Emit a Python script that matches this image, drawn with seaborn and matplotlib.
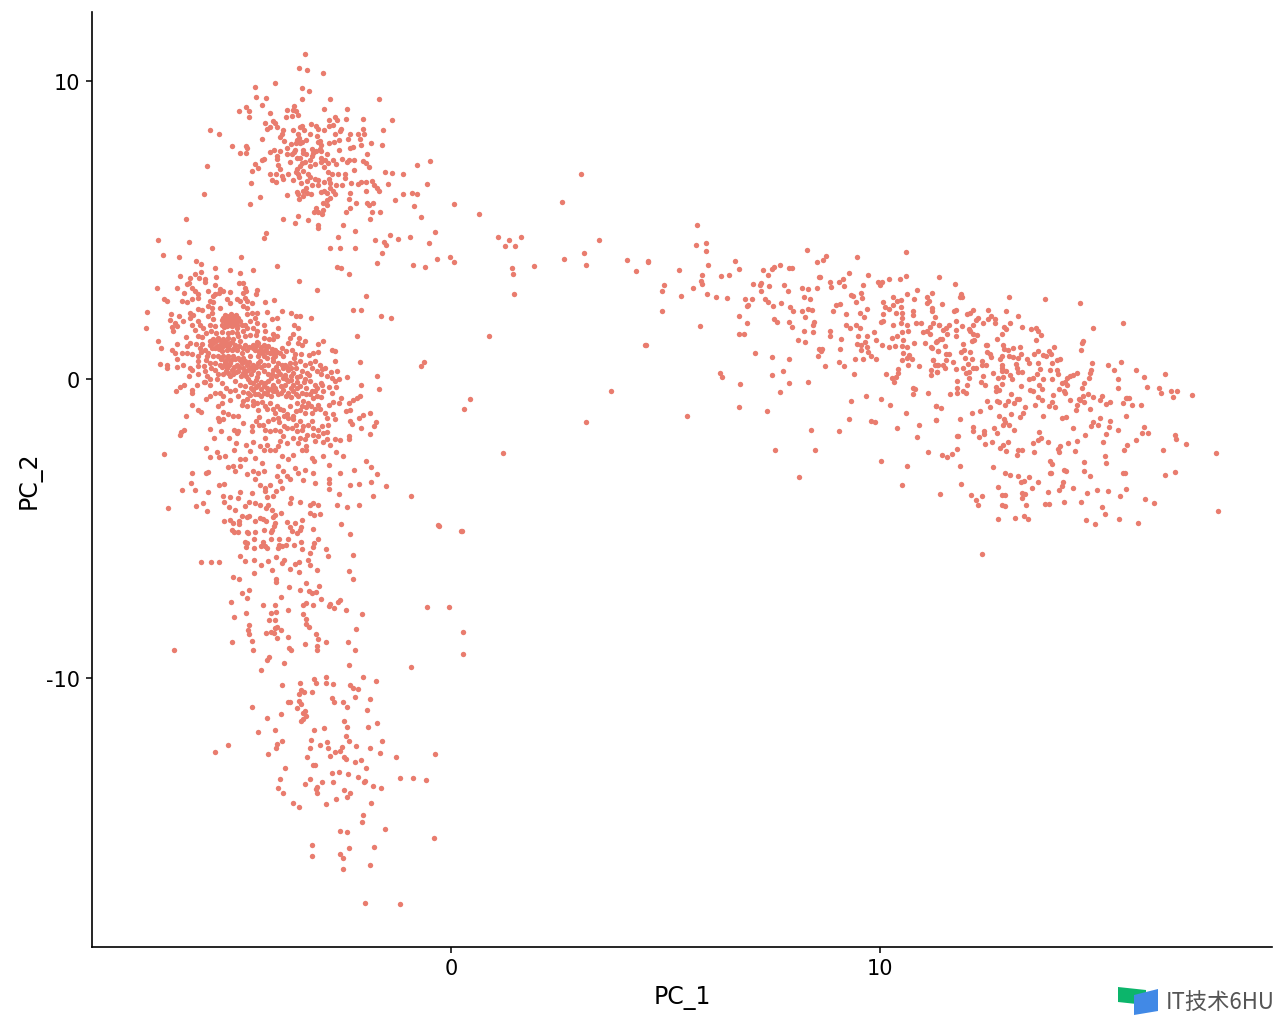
import pandas as pd
import matplotlib
matplotlib.use("Agg")
import matplotlib.pyplot as plt
from matplotlib.patches import Polygon
import seaborn as sns

# cell embedding (PC_1, PC_2)
upper_cells = [
(-3.40,10.90),(-3.54,10.43),(-3.36,10.37),(-2.98,10.27),(-4.57,9.79),(-4.10,9.92),(-3.48,9.78),(-3.32,9.66),(-4.55,9.46),(-4.31,9.42),
(-3.48,9.39),(-2.82,9.40),(-1.68,9.41),(-4.40,9.20),(-4.77,9.12),(-4.94,8.98),(-4.70,9.00),(-4.72,8.80),(-4.23,8.93),(-3.67,9.18),
(-3.82,9.03),(-3.69,9.02),(-3.62,9.01),(-3.70,8.84),(-3.56,8.85),(-3.85,8.79),(-2.95,9.05),(-2.43,9.07),(-2.70,8.80),(-2.84,8.70),
(-2.65,8.68),(-2.46,8.73),(-2.06,8.73),(-1.37,8.69),(-4.34,8.60),(-4.16,8.65),(-4.11,8.58),(-4.06,8.46),(-4.21,8.45),(-4.29,8.39),
(-3.92,8.36),(-3.26,8.56),(-3.15,8.51),(-3.48,8.51),(-3.52,8.46),(-3.43,8.35),(-3.68,8.36),(-3.09,8.38),(-2.95,8.36),(-2.85,8.51),
(-2.74,8.54),(-2.57,8.38),(-2.06,8.40),(-1.59,8.35),(-5.61,8.35),(-5.42,8.23),(-3.99,8.12),(-3.93,8.21),(-4.41,8.07),(-3.89,7.98),
(-3.56,8.21),(-3.58,8.04),(-3.62,7.93),(-3.29,8.24),(-3.37,8.04),(-3.12,8.15),(-3.05,7.98),(-2.70,8.23),(-2.59,8.32),(-2.35,8.22),
(-2.40,8.07),(-2.18,8.22),(-2.12,8.06),(-2.02,8.21),(-2.84,7.94),(-2.73,7.96),(-2.60,8.01),(-2.10,7.87),(-1.87,7.93),(-1.62,7.85),
(-5.11,7.82),(-4.77,7.82),(-4.76,7.76),(-3.72,7.88),(-3.52,7.93),(-3.02,7.87),(-2.35,7.76),(-2.29,7.79),(-2.61,7.68),(-4.93,7.59),
(-4.79,7.58),(-4.23,7.62),(-4.13,7.69),(-3.99,7.65),(-3.83,7.76),(-3.64,7.70),(-3.44,7.70),(-3.25,7.72),(-3.15,7.65),(-3.02,7.65),
(-3.83,7.54),(-3.70,7.54),(-4.06,7.48),(-4.06,7.39),(-3.60,7.43),(-3.52,7.43),(-3.37,7.54),(-3.25,7.48),(-3.29,7.35),(-3.21,7.59),
(-3.02,7.43),(-2.94,7.37),(-3.03,7.28),(-2.86,7.26),(-2.76,7.37),(-2.69,7.21),(-2.54,7.40),(-2.43,7.28),(-2.37,7.37),(-2.26,7.35),
(-1.97,7.55),(-2.06,7.31),(-1.98,7.24),(-1.92,7.11),(-4.37,7.39),(-4.40,7.36),(-4.57,7.23),(-4.51,7.09),(-4.65,7.00),(-5.70,7.16),
(-4.04,7.17),(-3.99,7.06),(-3.48,7.24),(-3.52,7.15),(-3.60,7.06),(-3.62,6.95),(-3.56,6.87),(-3.29,7.15),(-3.44,6.98),(-2.95,7.12),
(-2.86,6.96),(-2.27,7.02),(-1.55,6.96),(-1.38,6.92),(-1.13,6.88),(-0.79,7.18),(-0.49,7.31),(-4.22,6.89),(-4.09,6.89),(-3.80,6.89),
(-3.95,6.83),(-3.92,6.72),(-3.68,6.70),(-4.18,6.67),(-4.08,6.62),(-3.33,6.89),(-3.29,6.79),(-3.35,6.64),(-3.17,6.73),(-3.09,6.68),
(-3.09,6.50),(-2.78,6.87),(-2.84,6.72),(-2.63,6.87),(-2.48,6.87),(-2.47,6.76),(-2.82,6.59),(-2.67,6.51),(-2.55,6.52),(-2.34,6.57),
(-2.18,6.54),(-2.11,6.63),(-1.98,6.61),(-1.85,6.64),(-1.79,6.51),(-1.73,6.42),(-1.68,6.31),(-1.48,6.55),(-0.57,6.54),(-4.66,6.58),
(-3.25,6.51),(-3.37,6.42),(-3.44,6.31),(-2.82,6.42),(-2.76,6.31),(-2.70,6.23),(-3.60,6.28),(-3.56,6.20),(-3.54,6.05),(-3.26,6.20),
(-3.04,6.29),(-2.96,6.31),(-3.82,6.18),(-4.45,6.12),(-5.77,6.22),(-2.35,6.25),(-2.37,6.06),(-1.98,6.30),(-1.12,6.22),(-0.91,6.24),
(-0.80,6.22),(-1.31,6.03),(-2.82,6.09),(-2.90,6.03),(-2.98,5.90),(-2.90,5.86),(-2.21,5.90),(-1.95,5.92),(-1.92,5.84),(-1.81,5.92),
(-0.86,5.81),(0.06,5.88),(-4.69,5.87),(-3.15,5.75),(-3.19,5.62),(-3.09,5.60),(-2.98,5.67),(-3.00,5.55),(-2.35,5.73),(-2.45,5.62),
(-1.85,5.60),(-1.65,5.62),(-3.56,5.49),(-3.91,5.37),(-3.64,5.24),(-3.34,5.35),(-3.10,5.19),(-3.10,5.07),(-2.51,5.16),(-1.90,5.39),
(-0.69,5.45),(-6.19,5.37),(-4.32,4.91),(-4.37,4.75),(-2.23,4.96),(-2.64,4.79),(-1.43,4.85),(-1.24,4.71),(-0.95,4.77),(-0.38,4.93),
(-1.78,4.68),(-1.57,4.60),(-1.51,4.49),(-0.51,4.57),(-6.82,4.68),(-6.12,4.62),(-5.58,4.40),(-2.83,4.39),(-2.59,4.41),(-2.25,4.39),
(-1.62,4.25),(-6.72,4.17),(-6.35,4.12),(-4.89,4.12),(-0.02,4.09),(0.06,3.94),(-0.33,4.04),(-5.95,3.96),(-5.84,3.87),(-1.72,3.89),
(-0.88,3.84),(-0.61,3.77),(-4.06,3.79),(-5.50,3.72),(-5.15,3.68),(-4.61,3.67),(-2.65,3.76),(-2.56,3.73),
(-3.55,8.10),(-3.48,7.95),(-3.45,7.60),(-3.40,7.30),(-3.65,7.62),(-3.75,7.30),(-3.10,7.95),(-3.05,7.72),(-2.88,7.55),(-3.55,6.78),
(-3.50,6.60),(-2.95,6.62),(-2.90,6.25),(-3.35,6.25),(-3.45,6.15),(-3.18,7.22),
]
dense_cells = [
(-6.32,3.46),(-5.83,3.61),(-4.91,3.57),(-5.47,3.45),(-5.97,3.52),(-6.08,3.40),(-6.12,3.24),(-6.16,3.20),(-5.87,3.40),(-5.74,3.35),
(-5.74,3.27),(-3.54,3.30),(-2.39,3.52),(-6.86,3.08),(-6.40,3.06),(-6.03,3.07),(-5.97,2.96),(-5.91,2.85),(-6.03,2.71),(-5.89,2.73),
(-6.23,2.90),(-5.67,2.97),(-5.50,3.16),(-5.39,3.04),(-5.50,2.85),(-5.32,2.96),(-5.16,2.94),(-5.42,2.90),(-5.54,2.79),(-4.94,3.23),
(-4.84,3.24),(-4.80,3.07),(-4.77,2.96),(-4.84,2.90),(-4.53,2.99),(-4.54,2.85),(-4.80,2.74),(-4.75,2.62),(-3.12,3.01),(-1.99,2.79),
(-6.68,2.69),(-6.61,2.62),(-6.28,2.62),(-6.15,2.59),(-4.34,2.61),(-4.13,2.65),(-5.62,2.62),(-5.54,2.59),(-5.66,2.46),(-5.58,2.40),
(-5.39,2.40),(-5.23,2.68),(-5.15,2.57),(-5.00,2.68),(-4.92,2.62),(-4.84,2.46),(-4.65,2.57),(-4.76,2.40),(-7.08,2.27),(-2.28,2.34),
(-2.10,2.34),(-1.64,2.13),(-1.40,2.07),(-6.52,2.20),(-6.34,2.12),(-6.09,2.23),(-6.01,2.17),(-5.89,2.37),(-5.81,2.34),(-4.30,2.27),
(-3.93,2.31),(-3.73,2.23),(-3.62,2.12),(-3.51,2.14),(-3.26,2.07),(-6.54,1.99),(-6.43,1.90),(-6.24,1.95),(-6.40,1.79),(-6.51,1.76),
(-6.47,1.62),(-7.12,1.73),(-6.08,2.06),(-6.05,1.84),(-5.97,1.67),(-5.89,1.95),(-5.85,1.84),(-5.66,2.12),(-5.58,2.23),(-5.54,2.01),
(-5.62,1.84),(-5.50,1.79),(-5.31,2.07),(-5.23,2.12),(-5.15,2.07),(-5.08,2.12),(-5.27,1.95),(-5.19,1.90),(-5.11,1.95),(-5.04,1.90),
(-4.96,2.07),(-5.23,1.79),(-5.11,1.79),(-5.00,1.73),(-4.88,1.84),(-5.35,1.84),(-4.76,2.18),(-4.65,2.23),(-4.53,2.23),(-4.57,2.06),
(-4.69,1.95),(-4.80,1.84),(-4.53,1.90),(-4.61,1.73),(-4.35,1.84),(-4.18,2.01),(-4.06,2.06),(-4.03,1.73),(-4.34,1.62),(-4.14,1.51),
(-4.06,1.47),(-3.66,1.84),(-3.56,1.71),(-2.20,1.44),(-3.68,1.51),(-3.75,1.40),(-3.54,1.40),(-3.40,1.28),(-3.79,1.23),(-3.48,1.17),
(-3.56,1.23),(-2.99,1.30),(-3.11,1.19),(-6.84,1.28),(-6.75,1.06),(-6.51,1.00),(-6.43,0.89),(-6.38,1.19),(-6.28,0.89),(-6.40,0.69),
(-6.16,1.12),(-6.09,1.23),(-6.16,0.89),(-6.05,0.84),(-6.19,1.43),(-5.89,1.45),(-5.85,1.06),(-5.89,0.78),(-5.89,0.61),(-5.81,1.42),
(-5.74,1.00),(-5.62,1.17),(-5.66,0.89),(-5.70,0.78),(-5.54,1.34),(-5.50,1.06),(-5.54,0.78),(-5.43,1.39),(-5.31,1.34),(-5.19,1.39),
(-5.08,1.34),(-4.96,1.45),(-4.80,1.45),(-5.39,1.17),(-5.27,1.17),(-5.15,1.23),(-5.04,1.17),(-4.92,1.28),(-4.80,1.17),(-5.35,0.95),
(-5.23,1.00),(-5.11,1.00),(-5.00,1.00),(-4.88,0.89),(-4.76,1.00),(-5.43,0.78),(-5.31,0.78),(-5.19,0.78),(-5.08,0.78),(-4.96,0.72),
(-4.84,0.72),(-4.69,0.78),(-4.61,1.17),(-4.49,1.23),(-4.37,1.17),(-4.26,1.12),(-4.57,1.00),(-4.45,1.00),(-4.34,1.00),(-4.22,0.89),
(-4.49,0.80),(-4.37,0.78),(-4.10,1.00),(-3.99,0.89),(-3.91,0.78),(-4.10,0.78),(-4.14,1.34),(-3.95,1.06),(-3.71,1.00),(-3.64,0.84),
(-3.21,0.89),(-3.11,0.91),(-2.78,1.00),(-2.70,0.95),(-2.70,0.61),(-2.12,0.59),(-6.78,0.51),(-6.63,0.48),(-6.63,0.40),(-6.40,0.42),
(-6.24,0.50),(-6.08,0.39),(-6.05,0.33),(-6.10,0.10),(-5.89,0.45),(-5.77,0.45),(-5.74,0.28),(-5.89,0.19),(-5.70,0.11),(-5.62,0.00),
(-5.50,0.56),(-5.39,0.50),(-5.50,0.33),(-5.43,0.17),(-5.27,0.56),(-5.15,0.56),(-5.23,0.39),(-5.11,0.33),(-5.00,0.50),(-4.88,0.56),
(-4.76,0.50),(-5.31,0.17),(-5.19,0.22),(-5.08,0.17),(-4.96,0.28),(-4.84,0.22),(-4.73,0.33),(-4.61,0.50),(-4.49,0.56),(-4.37,0.50),
(-4.26,0.50),(-4.14,0.61),(-4.03,0.56),(-3.87,0.50),(-3.75,0.56),(-3.64,0.56),(-3.52,0.61),(-3.40,0.50),(-3.29,0.56),(-3.17,0.61),
(-3.05,0.50),(-2.94,0.39),(-3.25,0.39),(-3.13,0.28),(-3.02,0.17),(-2.90,0.11),(-2.78,0.05),(-2.61,0.00),(-2.42,0.08),(-1.73,0.11),
(-1.68,-0.31),(-2.09,-0.19),(-4.61,0.33),(-4.49,0.22),(-4.37,0.28),(-4.26,0.17),(-4.14,0.33),(-4.03,0.28),(-3.91,0.39),(-3.79,0.33),
(-3.68,0.22),(-4.73,0.00),(-4.61,-0.11),(-4.49,-0.17),(-4.80,-0.22),(-4.37,-0.23),(-4.26,-0.06),(-4.14,-0.17),(-4.03,-0.06),(-3.91,0.05),
(-3.79,-0.06),(-3.68,-0.17),(-3.52,0.11),(-3.40,0.00),(-3.29,-0.06),(-3.17,-0.17),(-3.52,-0.22),(-3.37,-0.28),(-3.25,-0.39),(-3.02,-0.11),
(-2.98,-0.39),(-2.78,-0.45),(-2.67,-0.25),(-2.57,-0.62),(-2.12,-0.56),(-2.20,-0.62),(-2.29,-0.69),(-2.37,-0.80),(-2.45,-1.04),(-2.35,-1.03),
(-6.42,-0.37),(-6.32,-0.25),(-6.23,-0.20),(-6.05,-0.34),(-6.05,-0.47),(-5.93,-0.17),(-5.74,-0.08),(-5.62,-0.17),(-5.62,-0.56),(-5.71,-0.67),
(-5.77,-0.08),(-5.50,-0.45),(-5.39,-0.47),(-5.31,-0.56),(-5.04,-0.34),(-4.96,-0.56),(-4.84,-0.73),(-4.73,-0.45),(-4.61,-0.34),(-4.49,-0.50),
(-4.37,-0.45),(-4.26,-0.34),(-4.14,-0.39),(-4.03,-0.50),(-3.91,-0.34),(-3.79,-0.45),(-3.68,-0.39),(-3.56,-0.56),(-3.44,-0.73),(-3.33,-0.78),
(-3.21,-0.62),(-3.09,-0.84),(-6.05,-0.86),(-5.89,-1.03),(-5.84,-1.10),(-6.19,-1.22),(-5.43,-0.89),(-5.35,-0.78),(-5.15,-0.70),(-5.31,-1.10),
(-5.21,-1.17),(-5.43,-1.29),(-5.40,-1.40),(-5.31,-1.34),(-5.08,-1.23),(-4.96,-1.23),(-4.84,-1.45),(-4.88,-0.84),(-4.76,-0.89),(-4.61,-0.84),
(-4.49,-1.01),(-4.34,-0.89),(-4.22,-0.78),(-4.06,-0.89),(-3.91,-1.01),(-4.10,-1.12),(-3.83,-1.17),(-3.68,-1.23),(-3.52,-1.01),(-3.40,-1.12),
(-3.25,-1.12),(-2.94,-1.12),(-2.90,-1.29),(-2.74,-1.17),(-2.70,-1.34),(-2.86,-1.51),(-2.35,-1.40),(-2.32,-1.48),(-2.14,-1.29),(-2.05,-1.20),
(-1.89,-1.12),(-1.75,-1.42),(-1.79,-1.56),(-2.10,-1.64),(-1.90,-1.84),(-4.65,-1.56),(-4.65,-1.73),(-4.47,-1.51),(-4.26,-1.40),(-4.14,-1.34),
(-4.03,-1.29),(-3.79,-1.29),(-3.68,-1.34),(-3.52,-1.40),(-4.34,-1.68),(-4.22,-1.73),(-4.10,-1.68),(-3.99,-1.73),(-3.83,-1.62),(-3.71,-1.62),
(-3.60,-1.73),(-3.44,-1.56),(-3.33,-1.51),(-3.25,-1.40),(-3.21,-1.62),(-3.09,-1.68),(-2.98,-1.79),(-2.90,-1.77),(-6.33,-1.87),(-6.30,-1.76),
(-6.22,-1.70),(-5.61,-1.67),(-5.37,-1.71),(-5.52,-1.97),(-5.07,-1.70),(-5.00,-1.81),(-4.96,-1.73),(-5.18,-1.97),(-5.02,-2.12),(-4.78,-2.18),
(-4.61,-2.10),(-4.69,-2.40),(-4.45,-2.24),(-4.34,-1.96),(-4.30,-2.18),(-4.37,-2.35),(-4.22,-2.35),(-4.10,-2.38),(-4.03,-2.24),(-3.99,-2.07),
(-3.91,-1.90),(-3.83,-2.12),(-3.68,-1.96),(-3.52,-1.96),(-3.56,-2.12),(-3.40,-2.01),(-3.37,-2.24),(-3.48,-2.38),(-3.39,-2.38),(-3.17,-2.07),
(-2.99,-2.10),(-2.82,-2.21),(-2.88,-1.99),(-2.70,-1.98),(-2.58,-2.03),(-2.38,-1.99),(-2.38,-1.88),(-5.72,-2.29),(-5.46,-2.42),(-5.63,-2.60),
(-5.40,-2.60),(-5.28,-2.57),(-5.06,-2.38),(-6.68,-2.51),(-5.19,-2.94),(-5.08,-2.91),(-5.04,-3.07),(-4.92,-2.66),(-4.80,-2.68),(-4.92,-2.91),
(-4.76,-3.18),(-4.57,-2.63),(-4.41,-2.79),(-4.61,-3.07),(-4.49,-3.13),(-4.57,-3.33),(-4.37,-3.07),(-3.95,-2.57),(-3.79,-2.68),(-3.68,-2.54),
(-4.03,-2.90),(-3.91,-3.07),(-3.83,-3.24),(-4.06,-3.24),(-3.99,-3.41),(-3.75,-3.35),(-3.64,-2.96),(-3.40,-3.02),(-3.56,-3.13),(-3.44,-3.38),
(-3.25,-2.63),(-3.19,-2.74),(-3.21,-3.15),(-3.17,-3.46),(-2.99,-2.57),(-2.69,-2.44),(-2.52,-2.55),(-2.84,-2.88),(-2.59,-3.13),(-2.27,-3.04),
(-1.99,-2.74),(-1.87,-2.93),(-1.73,-3.18),(-2.84,-3.35),(-2.84,-3.46),(-2.35,-3.53),(-2.14,-3.49),(-1.86,-3.45),(-1.52,-3.58),(-2.84,-3.66),
(-2.62,-3.84),(-1.81,-3.89),(-6.04,-3.15),(-5.71,-3.12),(-5.67,-3.11),(-6.07,-3.48),(-5.97,-3.70),(-6.27,-3.71),(-5.66,-3.78),(-5.40,-3.55),
(-5.30,-3.51),(-5.32,-3.91),(-5.15,-3.94),(-4.96,-3.97),(-4.92,-3.78),(-4.63,-3.80),(-4.45,-3.52),(-4.34,-3.63),(-4.23,-3.52),(-4.34,-3.74),
(-4.08,-3.74),(-4.14,-3.91),(-3.95,-3.63),(-4.30,-3.93),(-3.72,-3.97),
]
# the overlapping dots at the heart of the dense cluster
core_cells = [
(-5.28,2.15),(-5.20,2.02),(-5.12,2.18),(-5.05,2.02),(-4.98,1.97),(-5.33,2.00),(-5.25,1.87),(-5.16,1.84),(-5.07,1.85),(-4.99,1.83),
(-5.30,1.77),(-5.18,2.00),(-5.10,2.05),(-5.02,2.16),(-4.92,1.95),(-5.62,1.30),(-5.55,1.22),(-5.48,1.28),(-5.36,1.29),(-5.30,1.22),
(-5.24,1.27),(-5.18,1.15),(-5.10,1.24),(-5.45,1.12),(-5.58,1.05),(-5.42,1.02),(-5.33,1.08),(-5.20,1.06),(-5.06,1.07),(-4.95,1.12),
(-4.86,1.05),(-4.72,1.10),(-5.36,0.68),(-5.27,0.62),(-5.22,0.70),(-5.13,0.66),(-5.03,0.68),(-4.92,0.64),(-4.80,0.63),(-4.70,0.60),
(-5.35,0.43),(-5.30,0.47),(-5.17,0.47),(-5.06,0.43),(-4.95,0.42),(-4.84,0.40),(-4.78,0.30),(-4.66,0.42),(-5.25,0.28),(-5.15,0.12),
(-5.02,0.25),(-4.90,0.12),(-4.78,0.12),(-4.67,0.20),(-4.55,0.42),(-4.44,0.42),(-4.52,0.08),(-4.55,1.12),(-4.43,1.10),(-4.48,0.92),
(-4.30,1.08),(-4.40,0.88),(-4.30,0.92),(-4.18,1.02),(-4.52,1.24),(-4.62,1.05),(-4.15,0.90),(-4.05,0.92),(-4.08,0.42),(-3.95,0.48),
(-3.83,0.42),(-3.72,0.40),(-4.18,0.20),(-4.08,0.10),(-3.98,0.18),(-3.86,0.15),(-3.74,0.12),(-3.62,0.38),(-3.60,0.08),(-3.85,0.02),
(-3.72,-0.02),(-3.60,-0.08),(-3.97,-0.22),(-3.86,-0.18),(-3.73,-0.27),(-3.60,-0.30),(-4.20,0.05),(-4.10,-0.28),(-3.48,0.28),(-3.35,0.22),
(-3.42,-0.10),(-3.30,0.15),(-4.68,-0.08),(-4.55,-0.03),(-4.44,-0.08),(-4.33,-0.12),(-4.66,-0.28),(-4.55,-0.26),(-4.43,-0.32),(-4.30,-0.28),
(-4.18,-0.30),(-4.68,-0.52),(-4.56,-0.50),(-4.42,-0.56),(-4.30,-0.48),(-4.20,-0.55),(-4.08,-0.40),(-3.97,-0.44),(-3.85,-0.55),(-3.74,-0.60),
(-3.62,-0.50),(-3.48,-0.46),(-3.38,-0.50),(-3.28,-0.48),(-3.18,-0.40),(-3.12,-0.55),(-3.02,-0.60),(-3.48,-0.88),(-3.38,-0.92),(-3.26,-0.88),
(-3.18,-0.98),(-3.05,-1.00),(-3.60,-0.80),(-3.12,-0.30),(-3.00,-0.20),(-5.78,1.72),(-5.72,1.55),(-5.60,1.62),(-5.48,1.55),(-5.35,1.60),
(-5.20,1.55),(-5.10,1.60),(-4.98,1.55),(-4.85,1.62),(-4.75,1.72),(-4.68,1.50),(-4.52,1.62),(-5.80,1.20),(-5.95,1.20),(-5.82,0.92),
(-5.72,0.65),(-5.62,0.55),(-5.60,0.38),(-5.45,0.02),(-5.33,-0.12),(-5.25,-0.28),(-5.15,-0.40),(-5.03,-0.05),(-4.92,-0.20),(-4.85,-0.42),
(-4.62,-0.72),(-4.75,-0.66),(-4.40,-0.75),(-4.52,-0.80),(-4.28,-0.98),(-4.15,-0.98),(-3.98,-1.00),(-3.75,-0.90),(-3.62,-1.05),(-3.90,-1.22),
(-4.00,-1.42),(-3.62,-1.52),(-3.48,-1.70),(-3.90,-1.55),(-4.48,-1.25),(-4.55,-1.38),(-4.38,-1.52),(-3.35,-1.85),(-3.22,-1.85),(-3.10,-1.90),
(-3.00,-1.55),(-2.75,-0.75),(-2.60,-0.80),(-2.85,-0.85),(-2.85,-0.25),(-3.00,0.35),(-2.80,0.25),(-2.65,0.30),(-2.70,-0.05),(-3.65,0.72),
(-3.50,0.85),(-3.30,0.82),(-3.85,0.95),(-4.55,1.50),(-4.35,1.40),(-4.25,1.35),(-4.45,0.62),(-4.30,0.72),(-4.15,0.72),
]
lower_cells = [
(-6.59,-4.32),(-5.94,-4.23),(-5.79,-4.13),(-5.68,-4.41),(-5.29,-4.11),(-5.18,-4.28),(-5.04,-4.39),(-5.30,-4.75),(-5.16,-4.70),(-5.09,-4.82),
(-4.95,-4.75),(-4.95,-4.85),(-4.81,-4.24),(-4.72,-4.11),(-4.58,-4.15),(-4.46,-4.21),(-4.32,-4.30),(-4.26,-4.20),(-4.17,-4.39),(-3.75,-4.15),
(-3.53,-4.11),(-3.29,-4.19),(-3.21,-4.15),(-3.11,-4.22),(-2.66,-4.22),(-2.42,-4.27),(-2.15,-4.19),(-4.87,-4.57),(-4.75,-4.60),(-4.70,-4.56),
(-4.57,-4.74),(-4.45,-4.63),(-4.38,-4.69),(-4.31,-4.75),(-4.16,-4.60),(-4.10,-4.55),(-3.97,-4.48),(-3.29,-4.49),(-3.20,-4.55),(-3.05,-4.52),
(-3.48,-4.70),(-3.82,-4.77),(-3.64,-4.80),(-4.10,-4.80),(-4.13,-4.91),(-4.17,-5.03),(-4.19,-5.12),(-3.75,-4.94),(-3.71,-5.08),(-3.50,-4.94),
(-3.52,-5.05),(-3.60,-5.16),(-4.35,-5.03),(-4.57,-5.12),(-4.76,-5.12),(-4.73,-5.16),(-5.11,-5.06),(-5.06,-5.12),(-4.96,-5.12),(-3.22,-5.00),
(-2.56,-4.85),(-2.35,-5.19),(-0.28,-4.90),(0.25,-5.07),(-4.59,-5.33),(-4.80,-5.45),(-4.75,-5.47),(-4.78,-5.61),(-4.60,-5.65),(-4.43,-5.58),
(-4.39,-5.45),(-4.33,-5.58),(-4.28,-5.64),(-4.20,-5.36),(-4.00,-5.36),(-3.81,-5.36),(-4.01,-5.53),(-4.04,-5.64),(-3.94,-5.58),(-3.85,-5.53),
(-3.67,-5.56),(-3.50,-5.45),(-3.47,-5.67),(-3.20,-5.49),(-3.22,-5.61),(-3.09,-5.33),(-2.91,-5.67),(-3.29,-5.83),(-2.87,-5.93),(-2.29,-5.87),
(-4.91,-5.93),(-4.81,-6.09),(-4.60,-6.05),(-4.44,-6.23),(-4.27,-6.09),(-4.09,-5.96),(-3.89,-6.06),(-3.93,-6.14),(-4.17,-6.37),(-4.59,-6.50),
(-5.84,-6.11),(-5.60,-6.12),(-5.41,-6.10),(-3.64,-6.19),(-3.55,-6.12),(-3.75,-6.34),(-3.54,-6.46),(-3.33,-6.06),(-3.29,-6.20),(-3.12,-6.37),
(-2.37,-6.41),(-2.29,-6.67),(-5.09,-6.63),(-4.94,-6.69),(-4.07,-6.70),(-4.09,-6.80),(-3.37,-6.83),(-3.07,-6.91),(-3.78,-6.96),(-4.72,-7.06),
(-4.88,-7.14),(-4.76,-7.32),(-3.52,-7.07),(-3.31,-7.08),(-3.24,-7.14),(-3.14,-7.11),(-3.97,-7.30),(-3.04,-7.34),(-2.59,-7.38),(-2.63,-7.47),
(-2.82,-7.54),(-2.84,-7.59),(-2.73,-7.66),(-2.44,-7.71),(-2.07,-7.87),(-5.13,-7.47),(-4.39,-7.57),(-4.10,-7.57),(-3.80,-7.73),(-3.44,-7.55),
(-3.38,-7.49),(-3.21,-7.57),(-0.57,-7.62),(-0.04,-7.62),(-4.19,-7.82),(-4.08,-7.78),(-4.79,-7.83),(-5.06,-7.95),(-3.45,-7.86),(-4.25,-8.06),
(-4.10,-8.05),(-3.38,-8.04),(-3.37,-8.20),(-3.31,-8.28),(-4.71,-8.22),(-4.74,-8.40),(-4.72,-8.52),(-4.10,-8.32),(-4.05,-8.30),(-3.96,-8.39),
(-4.31,-8.49),(-4.20,-8.46),(-4.12,-8.50),(-4.06,-8.67),(-3.81,-8.64),(-2.22,-8.36),(0.28,-8.45),(-3.15,-8.52),(-3.10,-8.70),(-2.91,-8.81),
(-3.41,-8.88),(-3.13,-8.93),(-3.12,-9.05),(-5.10,-8.79),(-4.65,-8.77),(-4.62,-9.05),(-3.78,-9.00),(-3.74,-9.07),(-2.40,-8.80),(-2.25,-9.06),
(0.27,-9.20),(-6.46,-9.06),(-4.24,-9.30),(-4.30,-9.40),(-3.89,-9.49),(-2.38,-9.58),(-4.42,-9.75),(-0.93,-9.64),(-2.91,-9.98),(-3.20,-10.04),
(-3.15,-10.16),(-2.91,-10.17),(-2.74,-10.21),(-3.52,-10.17),(-3.95,-10.24),(-2.05,-9.97),(-1.76,-10.10),(-2.35,-10.25),(-2.29,-10.34),(-2.18,-10.36),
(-3.50,-10.40),(-3.42,-10.48),(-3.23,-10.48),(-3.55,-10.55),(-2.23,-10.63),(-1.88,-10.71),(-2.77,-10.69),(-2.73,-10.82),(-2.52,-10.81),(-2.43,-10.99),
(-1.97,-11.08),(-3.81,-10.82),(-3.75,-10.81),(-3.54,-10.79),(-3.49,-10.89),(-3.58,-11.00),(-4.65,-10.96),(-3.40,-11.11),(-3.45,-11.18),(-3.39,-11.27),
(-3.96,-11.22),(-4.28,-11.34),(-3.46,-11.39),(-3.50,-11.46),(-2.49,-11.43),(-2.42,-11.64),(-1.93,-11.64),(-1.73,-11.51),(-2.95,-11.68),(-3.19,-11.75),
(-4.10,-11.75),(-4.50,-11.80),(-2.45,-11.93),(-2.39,-12.12),(-1.61,-12.12),(-3.26,-12.08),(-2.90,-12.14),(-3.95,-12.13),(-4.05,-12.22),(-3.05,-12.25),
(-3.29,-12.34),(-2.86,-12.35),(-2.22,-12.28),(-2.53,-12.32),(-1.89,-12.35),(-4.09,-12.36),(-5.21,-12.24),(-5.51,-12.47),(-2.70,-12.49),(-2.58,-12.45),
(-2.81,-12.60),(-4.26,-12.55),(-3.36,-12.64),(-2.49,-12.65),(-2.46,-12.73),(-1.66,-12.53),(-1.29,-12.66),(-0.37,-12.56),(-2.25,-12.83),(-2.09,-12.75),
(-1.98,-13.02),(-3.88,-13.02),(-3.22,-12.92),(-3.16,-12.93),(-2.77,-13.17),(-2.61,-13.15),(-2.41,-13.22),(-3.99,-13.39),(-3.28,-13.40),(-3.41,-13.56),
(-3.01,-13.48),(-2.76,-13.48),(-2.17,-13.33),(-2.00,-13.46),(-2.03,-13.49),(-1.20,-13.36),(-0.88,-13.37),(-0.59,-13.42),(-4.03,-13.69),(-3.91,-13.85),
(-3.12,-13.65),(-3.14,-13.71),(-3.13,-13.86),(-1.83,-13.61),(-1.63,-13.68),(-2.49,-13.74),(-2.36,-13.86),(-2.42,-13.99),(-3.69,-14.18),(-3.55,-14.34),
(-2.91,-14.24),(-2.67,-14.05),(-1.87,-14.18),(-2.05,-14.60),(-2.08,-14.82),(-2.59,-15.12),(-2.43,-15.17),(-1.54,-15.07),(-0.40,-15.36),(-3.25,-15.60),
(-3.24,-15.96),(-2.38,-15.70),(-1.79,-15.65),(-2.58,-15.90),(-2.52,-16.05),(-2.51,-16.41),(-1.89,-16.26),(-2.00,-17.55),(-1.18,-17.57),
]
bridge_cells = [
(0.65,5.56),(1.10,4.76),(1.35,4.69),(1.63,4.79),(1.26,4.46),(1.49,4.46),(1.42,3.72),(1.45,3.52),(1.47,2.85),(1.93,3.79),
(2.59,5.93),(3.03,6.87),(3.45,4.66),(2.63,4.05),(3.10,4.25),(3.15,3.82),(4.10,4.02),(4.31,3.65),(4.59,3.95),(4.52,1.14),
(0.89,1.47),(0.44,-0.67),(0.30,-1.00),(1.21,-2.48),(3.73,-0.40),(3.15,-1.44),(-0.63,0.60),(-0.70,0.44),(-0.93,-3.92),(-0.30,-4.89),
(0.23,-5.09),
]
mid_cells = [
(5.74,5.18),(5.70,4.49),(5.95,4.58),(5.95,4.30),(4.60,3.96),(6.00,3.83),(6.61,3.97),(6.71,3.69),(5.31,3.66),(5.84,3.49),
(6.29,3.47),(6.48,3.51),(5.83,3.31),(5.84,3.20),(4.97,3.15),(4.92,2.98),(5.64,3.06),(5.36,2.81),(5.96,2.87),(6.18,2.78),
(6.44,2.74),(4.93,2.28),(5.80,1.80),(4.55,1.15),(7.27,3.66),(7.40,3.51),(7.49,3.70),(7.54,3.77),(7.66,3.83),(7.88,3.74),
(7.94,3.75),(7.03,3.20),(7.22,3.22),(7.21,3.17),(7.23,2.98),(7.41,3.12),(7.77,3.18),(7.85,2.95),(8.29,4.33),(8.54,3.95),
(8.68,4.01),(8.74,4.15),(9.46,4.12),(10.60,4.28),(8.58,3.45),(8.61,3.45),(8.19,3.05),(8.32,3.04),(8.53,3.08),(8.84,3.25),
(8.85,3.10),(9.04,3.25),(9.15,3.35),(9.16,3.14),(9.29,3.58),(9.71,3.50),(9.61,3.16),(9.55,2.90),(9.96,3.28),(10.04,3.26),
(9.99,3.16),(10.20,3.37),(10.46,3.38),(10.60,3.47),(10.86,3.00),(10.64,2.88),(11.38,3.42),(6.86,2.69),(7.02,2.70),(6.92,2.50),
(6.91,2.46),(7.33,2.71),(7.38,2.59),(7.51,2.45),(7.69,2.56),(7.91,2.43),(7.98,2.31),(8.22,2.76),(8.38,2.70),(8.18,2.31),
(8.33,2.36),(8.41,2.33),(8.26,2.11),(6.71,2.12),(6.91,1.90),(7.54,2.01),(7.59,1.94),(7.89,1.94),(7.94,1.75),(8.46,1.93),
(8.44,1.82),(8.24,1.62),(8.45,1.59),(6.71,1.53),(6.84,1.52),(8.10,1.32),(8.26,1.25),(8.84,1.62),(8.84,1.46),(9.09,1.36),
(8.90,2.29),(8.97,2.49),(9.07,2.52),(9.21,2.19),(9.53,2.22),(9.63,2.10),(9.33,2.82),(9.38,2.81),(9.43,2.60),(9.57,2.73),
(9.69,2.37),(9.22,1.81),(9.30,1.74),(9.43,1.83),(9.54,1.72),(9.49,1.45),(9.70,1.46),(9.85,1.60),(10.06,2.61),(10.12,2.42),
(10.20,2.36),(10.31,2.49),(10.39,2.62),(10.30,2.77),(10.49,2.66),(10.80,2.68),(11.09,2.75),(11.09,2.56),(11.15,2.62),(11.21,2.90),
(11.21,2.40),(11.21,2.29),(10.08,2.18),(10.49,2.42),(10.51,2.23),(10.37,2.22),(10.78,2.29),(10.76,2.15),(10.51,2.06),(10.49,1.90),
(10.02,1.92),(10.08,1.95),(10.30,1.81),(10.62,1.84),(10.83,1.88),(10.96,1.89),(11.28,2.09),(11.23,1.90),(11.17,1.76),(11.09,1.62),
(11.00,1.59),(11.17,1.53),(11.37,1.84),(10.52,1.59),(10.65,1.62),(10.39,1.46),(10.27,1.40),(9.91,1.33),(10.04,1.17),(10.22,1.09),
(10.35,1.12),(10.53,1.31),(10.51,1.13),(10.62,1.10),(10.79,1.23),(11.04,1.22),(11.21,1.07),(11.31,1.26),(11.36,0.95),(9.46,1.19),
(9.56,1.16),(9.65,1.24),(9.70,1.10),(9.56,1.00),(9.71,0.93),(9.78,0.77),(9.90,0.67),(9.42,0.68),(9.60,0.69),(9.08,1.03),
(9.05,0.58),(9.16,0.45),(9.40,0.19),(8.58,1.03),(8.66,1.03),(8.63,0.95),(8.55,0.80),(8.73,0.45),(7.09,0.89),(7.48,0.74),
(7.89,0.69),(7.75,0.27),(7.49,0.15),(6.27,0.22),(6.31,0.08),(6.73,-0.15),(8.33,-0.07),(7.87,-0.13),(7.67,-0.42),(6.71,-0.92),
(7.37,-1.07),(5.49,-1.22),(7.55,-2.35),(8.49,-2.36),(8.40,-1.70),(9.04,-1.73),(8.11,-3.27),(9.33,-0.73),(9.67,-0.55),(10.03,-0.64),
(10.23,-0.86),(9.28,-1.32),(9.80,-1.39),(9.88,-1.41),(10.40,-1.64),(10.61,-1.13),(10.02,-2.74),(10.62,-2.91),(10.51,-3.54),(10.92,-1.54),
(10.86,-1.93),(11.13,-2.43),(11.30,-0.90),(11.31,-1.37),(10.78,-0.30),(10.81,-0.31),(10.77,-0.49),(11.11,-0.44),(10.29,0.06),(10.37,0.09),
(10.43,0.22),(10.41,0.36),(10.33,-0.10),(10.14,0.20),(10.65,0.49),(10.90,0.45),(11.18,0.32),(11.20,0.15),(11.32,0.24),(11.28,0.47),
(11.36,0.47),(10.54,0.90),(10.68,0.82),(10.62,0.72),(10.51,0.65),(10.75,0.68),(11.23,0.65),
]
right_cells = [
(11.74,3.19),(11.89,2.85),(11.92,2.77),(11.87,2.77),(13.00,2.77),(13.84,2.70),(14.67,2.57),(11.45,2.52),(11.73,2.29),(11.77,2.34),
(12.02,2.18),(12.10,2.23),(12.18,2.32),(12.51,2.32),(12.93,2.29),(13.22,2.14),(15.67,1.89),(14.97,1.73),(12.25,1.99),(12.29,2.07),
(12.51,2.01),(12.60,2.12),(12.68,2.01),(12.68,1.88),(13.03,1.90),(11.77,1.95),(11.92,1.79),(12.18,1.82),(12.41,1.88),(12.08,1.70),
(12.10,1.62),(12.18,1.54),(12.27,1.48),(11.46,1.67),(11.55,1.73),(11.61,1.81),(11.38,1.84),(11.77,1.65),(11.77,1.47),(11.57,1.51),
(12.89,1.76),(12.94,1.70),(12.84,1.51),(12.74,1.34),(13.31,1.76),(13.53,1.69),(13.64,1.71),(13.69,1.62),(13.75,1.48),(13.64,1.32),
(14.74,1.30),(14.72,1.21),(14.69,1.00),(11.32,1.28),(11.40,1.34),(11.45,1.35),(11.52,1.11),(11.20,1.08),(11.94,1.20),(12.14,1.30),
(12.19,1.32),(12.47,1.16),(12.50,1.17),(12.88,1.14),(12.89,1.03),(12.99,1.00),(13.10,1.04),(13.27,1.08),(11.88,0.93),(11.97,0.98),
(12.11,0.93),(12.50,0.93),(12.57,0.84),(12.60,0.76),(11.36,0.94),(11.55,0.86),(11.62,0.86),(12.84,0.80),(13.02,0.78),(13.11,0.76),
(13.23,0.72),(13.29,0.86),(13.60,0.86),(13.69,0.95),(13.81,0.81),(13.87,0.80),(13.95,0.97),(13.98,0.87),(14.05,1.08),(11.98,0.73),
(12.15,0.70),(11.23,0.66),(11.71,0.59),(11.55,0.66),(12.39,0.61),(12.81,0.67),(13.42,0.69),(14.20,0.70),(14.12,0.65),(11.32,0.47),
(11.48,0.47),(11.52,0.37),(12.06,0.51),(11.77,0.35),(11.94,0.37),(12.18,0.39),(12.23,0.39),(12.39,0.47),(12.47,0.47),(12.84,0.50),
(12.84,0.37),(13.17,0.53),(13.20,0.37),(13.48,0.56),(13.69,0.54),(14.02,0.55),(14.94,0.54),(15.31,0.48),(15.62,0.58),(15.45,0.33),
(15.98,0.32),(14.93,0.33),(14.90,0.23),(11.32,0.24),(12.00,0.22),(12.08,0.25),(12.63,0.22),(12.84,0.28),(12.95,0.28),(13.23,0.26),
(13.30,0.26),(13.73,0.36),(13.96,0.31),(14.13,0.33),(12.08,0.06),(12.41,0.11),(12.76,0.06),(12.86,0.08),(13.03,0.14),(13.09,0.00),
(13.47,0.00),(13.57,0.06),(13.67,0.20),(13.79,0.02),(14.00,0.00),(14.16,0.17),(14.35,0.06),(14.43,0.11),(14.51,0.15),(14.59,0.21),
(14.31,-0.09),(14.24,-0.11),(14.35,-0.17),(14.87,0.04),(14.76,-0.11),(16.64,0.20),(16.16,0.07),(11.80,-0.06),(12.02,-0.18),(12.35,-0.07),
(12.45,-0.19),(12.84,-0.15),(13.29,-0.21),(13.71,-0.17),(15.55,0.02),(15.54,-0.27),(16.22,-0.26),(16.51,-0.28),(16.79,-0.37),(16.92,-0.37),
(17.27,-0.51),(16.55,-0.46),(16.83,-0.58),(11.80,-0.28),(11.80,-0.45),(11.93,-0.40),(12.00,-0.46),(11.63,-0.50),(12.70,-0.26),(12.70,-0.37),
(12.78,-0.36),(13.50,-0.36),(13.56,-0.39),(13.78,-0.31),(14.18,-0.31),(14.29,-0.39),(14.31,-0.47),(14.72,-0.30),(13.06,-0.50),(14.03,-0.53),
(14.86,-0.48),(14.97,-0.58),(15.17,-0.56),(15.75,-0.61),(15.80,-0.61),(15.73,-0.61),(12.49,-0.72),(12.72,-0.73),(12.78,-0.76),(12.98,-0.72),
(13.12,-0.78),(13.19,-0.67),(13.25,-0.66),(13.69,-0.59),(13.77,-0.70),(14.43,-0.68),(14.65,-0.67),(14.74,-0.56),(14.76,-0.75),(14.66,-0.69),
(15.14,-0.70),(15.28,-0.82),(15.36,-0.74),(15.67,-0.80),(15.88,-0.84),(16.08,-0.84),(11.30,-0.90),(11.43,-0.95),(12.57,-0.92),(12.92,-0.87),
(13.37,-0.93),(13.62,-0.84),(13.93,-0.88),(14.01,-0.76),(14.09,-0.93),(14.59,-0.86),(14.57,-1.01),(14.89,-0.98),(12.15,-1.14),(12.34,-1.06),
(12.77,-1.23),(13.05,-1.15),(13.26,-1.26),(13.33,-1.13),(13.81,-1.23),(14.25,-1.30),(14.33,-1.27),(15.74,-1.21),(11.31,-1.37),(11.87,-1.33),
(15.13,-1.30),(15.36,-1.40),(14.96,-1.42),(14.91,-1.56),(15.09,-1.53),(12.18,-1.59),(12.18,-1.72),(12.89,-1.34),(12.91,-1.43),(12.87,-1.51),
(13.02,-1.51),(12.67,-1.63),(13.12,-1.69),(12.73,-1.79),(12.43,-1.71),(12.43,-1.84),(12.32,-1.93),(14.51,-1.62),(14.78,-1.87),(15.34,-1.60),
(15.54,-1.68),(15.28,-1.84),(16.16,-1.60),(16.11,-1.81),(16.25,-1.80),(16.89,-1.87),(16.90,-2.01),(17.13,-2.16),(11.79,-1.90),(11.83,-1.89),
(13.70,-1.76),(13.75,-1.95),(13.69,-2.03),(13.57,-2.14),(13.91,-2.10),(14.38,-2.12),(14.59,-2.07),(15.21,-2.11),(15.98,-2.04),(15.77,-2.20),
(15.70,-2.37),(16.60,-2.35),(12.46,-2.16),(12.61,-2.10),(12.99,-2.08),(12.86,-2.19),(12.80,-2.31),(12.94,-2.40),(11.80,-2.32),(11.45,-2.53),
(11.57,-2.59),(11.68,-2.51),(13.23,-2.38),(13.30,-2.37),(13.20,-2.53),(13.58,-2.44),(14.20,-2.23),(14.16,-2.32),(14.17,-2.42),(14.55,-2.41),
(17.83,-2.48),(15.25,-2.57),(15.28,-2.79),(13.96,-2.72),(14.01,-2.84),(14.76,-2.76),(11.87,-2.90),(12.63,-2.94),(14.30,-3.04),(14.34,-3.08),
(14.75,-3.07),(13.96,-3.15),(13.99,-3.15),(14.90,-3.22),(15.67,-3.14),(15.72,-3.14),(16.64,-3.20),(16.88,-3.09),(12.91,-3.15),(13.03,-3.19),
(13.22,-3.23),(13.47,-3.26),(13.29,-3.43),(13.36,-3.41),(13.68,-3.43),(11.89,-3.50),(12.76,-3.60),(13.55,-3.62),(14.27,-3.42),(14.25,-3.57),
(14.17,-3.71),(14.49,-3.64),(13.91,-3.76),(14.83,-3.82),(15.07,-3.69),(15.31,-3.74),(15.74,-3.68),(15.60,-3.91),(16.18,-4.00),(16.39,-4.15),
(11.41,-3.84),(12.12,-3.86),(12.39,-3.89),(12.24,-4.04),(12.28,-4.22),(12.84,-3.87),(12.92,-3.86),(13.31,-3.80),(13.38,-3.85),(13.30,-3.98),
(13.40,-4.20),(12.85,-4.20),(12.92,-4.25),(13.85,-4.17),(13.95,-4.17),(14.30,-4.10),(14.68,-4.10),(15.17,-4.28),(12.75,-4.66),(13.15,-4.63),
(13.36,-4.56),(13.44,-4.66),(14.80,-4.72),(15.01,-4.85),(15.24,-4.52),(15.57,-4.67),(16.02,-4.81),(12.39,-5.86),(17.89,-4.41),
]
x_ticks = [0, 10]
y_ticks = [-10, 0, 10]

cells = pd.DataFrame(upper_cells + dense_cells + core_cells + lower_cells + bridge_cells + mid_cells + right_cells,
                     columns=["PC_1", "PC_2"])

sns.set_style("ticks")
plt.rcParams["axes.unicode_minus"] = False

fig = plt.figure(figsize=(12.8, 10.2), dpi=100)
ax = fig.add_axes([92 / 1280, 1 - 947.5 / 1020, 1180 / 1280, 935 / 1020])

sns.scatterplot(data=cells, x="PC_1", y="PC_2", color="#E97C6E", s=15, linewidth=0, ax=ax)
sns.despine(ax=ax)

ax.set_xlim(-8.37, 19.14)
ax.set_ylim(-19.0, 12.33)
ax.set_xticks(x_ticks)
ax.set_yticks(y_ticks)
ax.tick_params(labelsize=15, length=4.5, width=1.1, color="black", labelcolor="black", pad=4)
ax.set_xlabel("PC_1", fontsize=17, color="black", labelpad=5)
ax.set_ylabel("PC_2", fontsize=17, color="black", labelpad=3)
for side in ["left", "bottom"]:
    ax.spines[side].set_color("black")
    ax.spines[side].set_linewidth(1.2)

# watermark, bottom right
to_fig = lambda px, py: (px / 1280, 1 - py / 1020)
fig.patches.append(Polygon([to_fig(1118, 988), to_fig(1146, 991), to_fig(1146, 1006), to_fig(1118, 1003)],
                           transform=fig.transFigure, color="#0CB56B", lw=0))
fig.patches.append(Polygon([to_fig(1134, 996), to_fig(1158, 990), to_fig(1158, 1012), to_fig(1134, 1016)],
                           transform=fig.transFigure, color="#4189E6", lw=0))
fig.text(1166 / 1280, 1 - 1002 / 1020, "IT技术6HU", fontsize=16, color="#555555", va="center", ha="left",
         family=["Noto Sans CJK SC", "DejaVu Sans"])

fig.savefig("out.png", dpi=100)
